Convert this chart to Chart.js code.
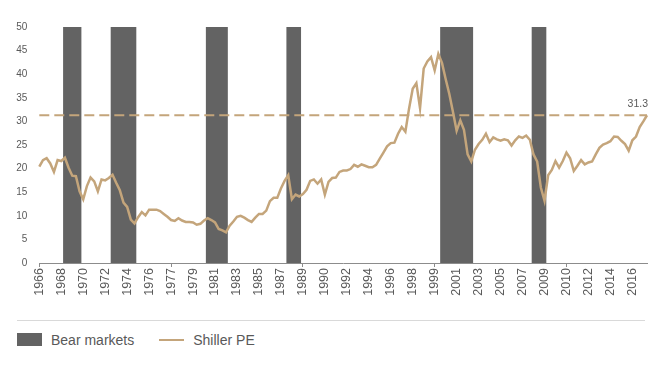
<!DOCTYPE html>
<html>
<head>
<meta charset="utf-8">
<script src="https://cdn.jsdelivr.net/npm/chart.js@4.4.0/dist/chart.umd.min.js"></script>
<style>
  body { margin: 0; background: #fff; font-family: "Liberation Sans", Arial, sans-serif; }
  #wrap { position: relative; width: 662px; height: 369px; overflow: hidden; }
  #chart-box { position: absolute; left: 0; top: 0; width: 662px; height: 312px; }
  #legend-rule { position: absolute; left: 17px; top: 320px; width: 628px; border-top: 1px solid #d9d9d9; }
  #legend { position: absolute; left: 17px; top: 331px; display: flex; align-items: center; font-size: 14px; color: #595959; }
  .item { display: flex; align-items: center; margin-right: 25px; height: 17px; }
  .swatch { width: 25px; height: 13px; margin-right: 9px; }
  .swatch.line { height: 0; border-top-width: 2.5px; border-top-style: solid; }
</style>
</head>
<body>
<div id="wrap">
  <div id="chart-box"><canvas id="chart"></canvas></div>
  <div id="legend-rule"></div>
  <div id="legend"></div>
</div>
<script>
// --- DADOS ---
const tickLabels = ['1966', '1968', '1970', '1972', '1974', '1976', '1977', '1979', '1981', '1983',
    '1985', '1987', '1989', '1990', '1992', '1994', '1996', '1998', '1999', '2001',
    '2003', '2005', '2007', '2009', '2010', '2012', '2014', '2016'];
const pointsPerTick = 6;

const shillerPE = [
    20.4, 21.8, 22.2, 21.1, 19.3, 21.8, 21.6, 22.3, 20.2, 18.5,
    18.4, 15.2, 13.5, 16.3, 18.1, 17.3, 15.2, 17.7, 17.5, 18.0,
    18.7, 17.0, 15.4, 12.8, 11.9, 9.2, 8.4, 9.7, 10.8, 10.1,
    11.3, 11.3, 11.3, 11.0, 10.4, 9.8, 9.1, 8.9, 9.5, 9.0,
    8.7, 8.7, 8.6, 8.1, 8.3, 9.0, 9.5, 9.1, 8.6, 7.2,
    6.9, 6.5, 7.9, 8.8, 9.8, 10.0, 9.6, 9.1, 8.7, 9.6,
    10.4, 10.4, 11.1, 13.1, 13.8, 13.8, 15.8, 17.4, 18.6, 13.5,
    14.5, 14.1, 14.6, 15.5, 17.4, 17.7, 16.8, 17.7, 14.5, 17.2,
    18.0, 18.1, 19.3, 19.6, 19.6, 19.9, 20.8, 20.4, 20.9, 20.6,
    20.3, 20.3, 20.8, 22.1, 23.4, 24.7, 25.4, 25.5, 27.4, 28.8,
    27.8, 32.7, 36.9, 38.1, 32.8, 41.2, 42.7, 43.6, 40.8, 44.3,
    42.4, 39.0, 35.8, 32.0, 28.0, 30.2, 28.2, 23.0, 21.5, 24.0,
    25.2, 26.1, 27.4, 25.6, 26.6, 26.2, 25.9, 26.2, 26.0, 24.9,
    26.0, 26.8, 26.5, 27.0, 26.1, 23.0, 21.5, 16.0, 13.2, 18.6,
    19.7, 21.6, 20.2, 21.6, 23.4, 22.2, 19.5, 20.6, 21.8, 20.9,
    21.3, 21.5, 23.0, 24.4, 25.1, 25.4, 25.8, 26.8, 26.7, 25.9,
    25.2, 23.8, 26.0, 26.8, 28.8, 30.0, 31.3
];

// periodos de bear market (indice inicial e final da serie)
const bearMarkets = [[7, 11], [20, 26], [46, 51], [68, 71], [110, 118], [135, 138]];
const currentPE = 31.3;
const yMax = 50;

// --- CORES ---
const tan = '#c4a57b';
const bearGray = '#636363';
const textGray = '#595959';

Chart.defaults.font.family = '"Liberation Sans", Arial, sans-serif';
Chart.defaults.color = textGray;

const labels = shillerPE.map((_, i) => i % pointsPerTick === 0 ? tickLabels[i / pointsPerTick] : '');
const bearData = shillerPE.map((_, i) => bearMarkets.some(([a, b]) => i >= a && i <= b) ? yMax : 0);

// rotulo "31.3" no fim da linha tracejada
const endLabel = {
    id: 'endLabel',
    afterDatasetsDraw(chart) {
        const meta = chart.getDatasetMeta(1);
        const pt = meta.data[meta.data.length - 1];
        const ctx = chart.ctx;
        ctx.save();
        ctx.font = '10.5px "Liberation Sans", Arial, sans-serif';
        ctx.fillStyle = textGray;
        ctx.textAlign = 'right';
        ctx.textBaseline = 'alphabetic';
        ctx.fillText(currentPE.toFixed(1), pt.x + 1, pt.y - 8);
        ctx.restore();
    }
};

const chart = new Chart(document.getElementById('chart'), {
    type: 'line',
    data: {
        labels: labels,
        datasets: [
            {
                label: 'Bear markets', data: bearData, inLegend: true, kind: 'box',
                stepped: 'middle', fill: 'origin', backgroundColor: bearGray,
                borderColor: 'transparent', borderWidth: 0, pointRadius: 0, order: 3
            },
            {
                label: 'Current', data: shillerPE.map(() => currentPE),
                borderColor: tan, borderWidth: 2, borderDash: [10, 5],
                pointRadius: 0, fill: false, order: 2
            },
            {
                label: 'Shiller PE', data: shillerPE, inLegend: true, kind: 'line',
                borderColor: tan, borderWidth: 2.5, pointRadius: 0, fill: false,
                tension: 0, order: 1
            }
        ]
    },
    options: {
        responsive: true, maintainAspectRatio: false, animation: false,
        layout: { padding: { left: 16, right: 15, top: 27, bottom: 0 } },
        plugins: { legend: { display: false }, tooltip: { enabled: false } },
        scales: {
            x: {
                offset: false,
                border: { display: true, color: '#8c8c8c', width: 1 },
                grid: {
                    drawOnChartArea: false, drawTicks: true, tickLength: 4,
                    tickColor: ctx => labels[ctx.index] ? '#8c8c8c' : 'transparent'
                },
                ticks: {
                    autoSkip: false, minRotation: 90, maxRotation: 90, padding: 1,
                    font: { size: 12.5 }, color: textGray,
                    callback: function(val) {
                        const l = this.getLabelForValue(val);
                        return l === '' ? null : l;
                    }
                },
                afterFit: scale => { scale.height = 49; }
            },
            y: {
                min: 0, max: yMax,
                border: { display: false },
                grid: { display: false, drawTicks: false },
                ticks: { stepSize: 5, padding: 12, font: { size: 10 }, color: textGray },
                afterFit: scale => { scale.width = 23.3; }
            }
        }
    },
    plugins: [endLabel]
});

// --- LEGENDA HTML ---
const legendEl = document.getElementById('legend');
chart.data.datasets.filter(d => d.inLegend).forEach(d => {
    const item = document.createElement('div');
    item.className = 'item';
    const sw = document.createElement('span');
    sw.className = 'swatch' + (d.kind === 'line' ? ' line' : '');
    if (d.kind === 'line') sw.style.borderTopColor = d.borderColor;
    else sw.style.background = d.backgroundColor;
    const txt = document.createElement('span');
    txt.textContent = d.label;
    item.appendChild(sw);
    item.appendChild(txt);
    legendEl.appendChild(item);
});
</script>
</body>
</html>
